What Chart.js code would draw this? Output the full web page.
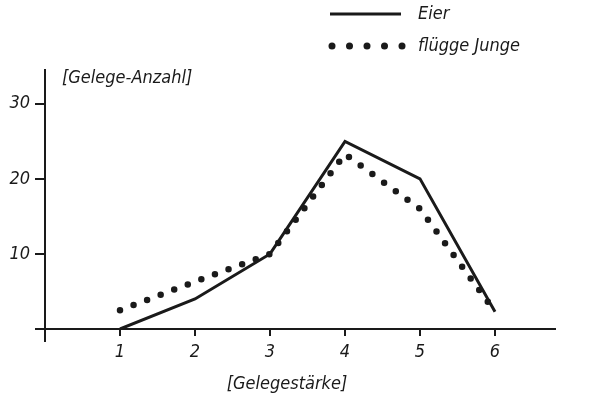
<!DOCTYPE html>
<html>
<head>
<meta charset="utf-8">
<script src="https://cdn.jsdelivr.net/npm/chart.js@4.4.1/dist/chart.umd.min.js"></script>
<style>
  html, body { margin: 0; padding: 0; background: #fff; }
  #wrap { width: 590px; height: 400px; }
</style>
</head>
<body>
<div id="wrap"><canvas id="gelegeChart" width="590" height="400"></canvas></div>
<script>
// Gelegestärke (clutch size) on x, number of clutches on y
const gelegestaerke = [1, 2, 3, 4, 5, 6];
const eier = [0, 4, 10, 25, 20, 2.3];
const fluggeJunge = [2.5, 6.3, 10, 23.3, 16, 2.3];
const yTicks = [10, 20, 30];

const FONT = "'DejaVu Sans Condensed', 'Liberation Sans Narrow', 'DejaVu Sans', sans-serif";
const INK = "#1a1a1a";

function points(values) {
  return gelegestaerke.map((x, i) => ({ x: x, y: values[i] }));
}

// axis extension, axis titles and the legend of the printed figure
const extras = {
  id: "extras",
  afterDraw(chart) {
    const ctx = chart.ctx;
    const xs = chart.scales.x, ys = chart.scales.y;
    const x0 = xs.getPixelForValue(0), y0 = ys.getPixelForValue(0);
    ctx.save();
    ctx.strokeStyle = INK;
    ctx.lineWidth = 2;
    ctx.beginPath();
    ctx.moveTo(x0, y0);
    ctx.lineTo(x0, y0 + 13);
    ctx.stroke();

    ctx.fillStyle = INK;
    ctx.font = "italic 18px " + FONT;
    ctx.textBaseline = "middle";
    ctx.textAlign = "left";
    ctx.fillText("[Gelege-Anzahl]", 62, 78);
    ctx.textAlign = "center";
    ctx.fillText("[Gelegestärke]", 287, 384);

    // legend
    ctx.textAlign = "left";
    ctx.lineWidth = 3;
    ctx.beginPath();
    ctx.moveTo(330, 14);
    ctx.lineTo(401, 14);
    ctx.stroke();
    ctx.fillText("Eier", 418, 14);
    for (let i = 0; i < 5; i++) {
      ctx.beginPath();
      ctx.arc(332 + i * 17.5, 46, 3.5, 0, Math.PI * 2);
      ctx.fill();
    }
    ctx.fillText("flügge Junge", 418, 46);
    ctx.restore();
  }
};

new Chart(document.getElementById("gelegeChart"), {
  type: "line",
  data: {
    datasets: [{
      label: "Eier",
      data: points(eier),
      borderColor: INK,
      borderWidth: 3,
      pointRadius: 0,
      tension: 0
    }, {
      label: "flügge Junge",
      data: points(fluggeJunge),
      borderColor: INK,
      borderWidth: 6.5,
      borderDash: [0, 14.5],
      borderCapStyle: "round",
      pointRadius: 0,
      tension: 0
    }]
  },
  options: {
    responsive: false,
    animation: false,
    layout: { padding: { top: 70, right: 35, left: 0, bottom: 0 } },
    plugins: { legend: { display: false }, tooltip: { enabled: false } },
    scales: {
      x: {
        type: "linear",
        min: 0,
        max: 6.8,
        afterFit(scale) { scale.height = 71; },
        afterBuildTicks(scale) {
          scale.ticks = [0].concat(gelegestaerke).map(v => ({ value: v }));
        },
        grid: { drawOnChartArea: false, color: INK, lineWidth: 2, tickLength: 7 },
        border: { color: INK, width: 2 },
        ticks: {
          color: INK,
          padding: 6,
          maxRotation: 0,
          font: { family: FONT, size: 18, style: "italic" },
          callback: v => (v === 0 ? "" : String(v))
        }
      },
      y: {
        min: 0,
        max: 34.5,
        afterFit(scale) { scale.width = 45; },
        afterBuildTicks(scale) {
          scale.ticks = [0].concat(yTicks).map(v => ({ value: v }));
        },
        grid: { drawOnChartArea: false, color: INK, lineWidth: 2, tickLength: 10 },
        border: { color: INK, width: 2 },
        ticks: {
          color: INK,
          padding: 5,
          font: { family: FONT, size: 18, style: "italic" },
          callback: v => (v === 0 ? "" : String(v))
        }
      }
    }
  },
  plugins: [extras]
});
</script>
</body>
</html>
